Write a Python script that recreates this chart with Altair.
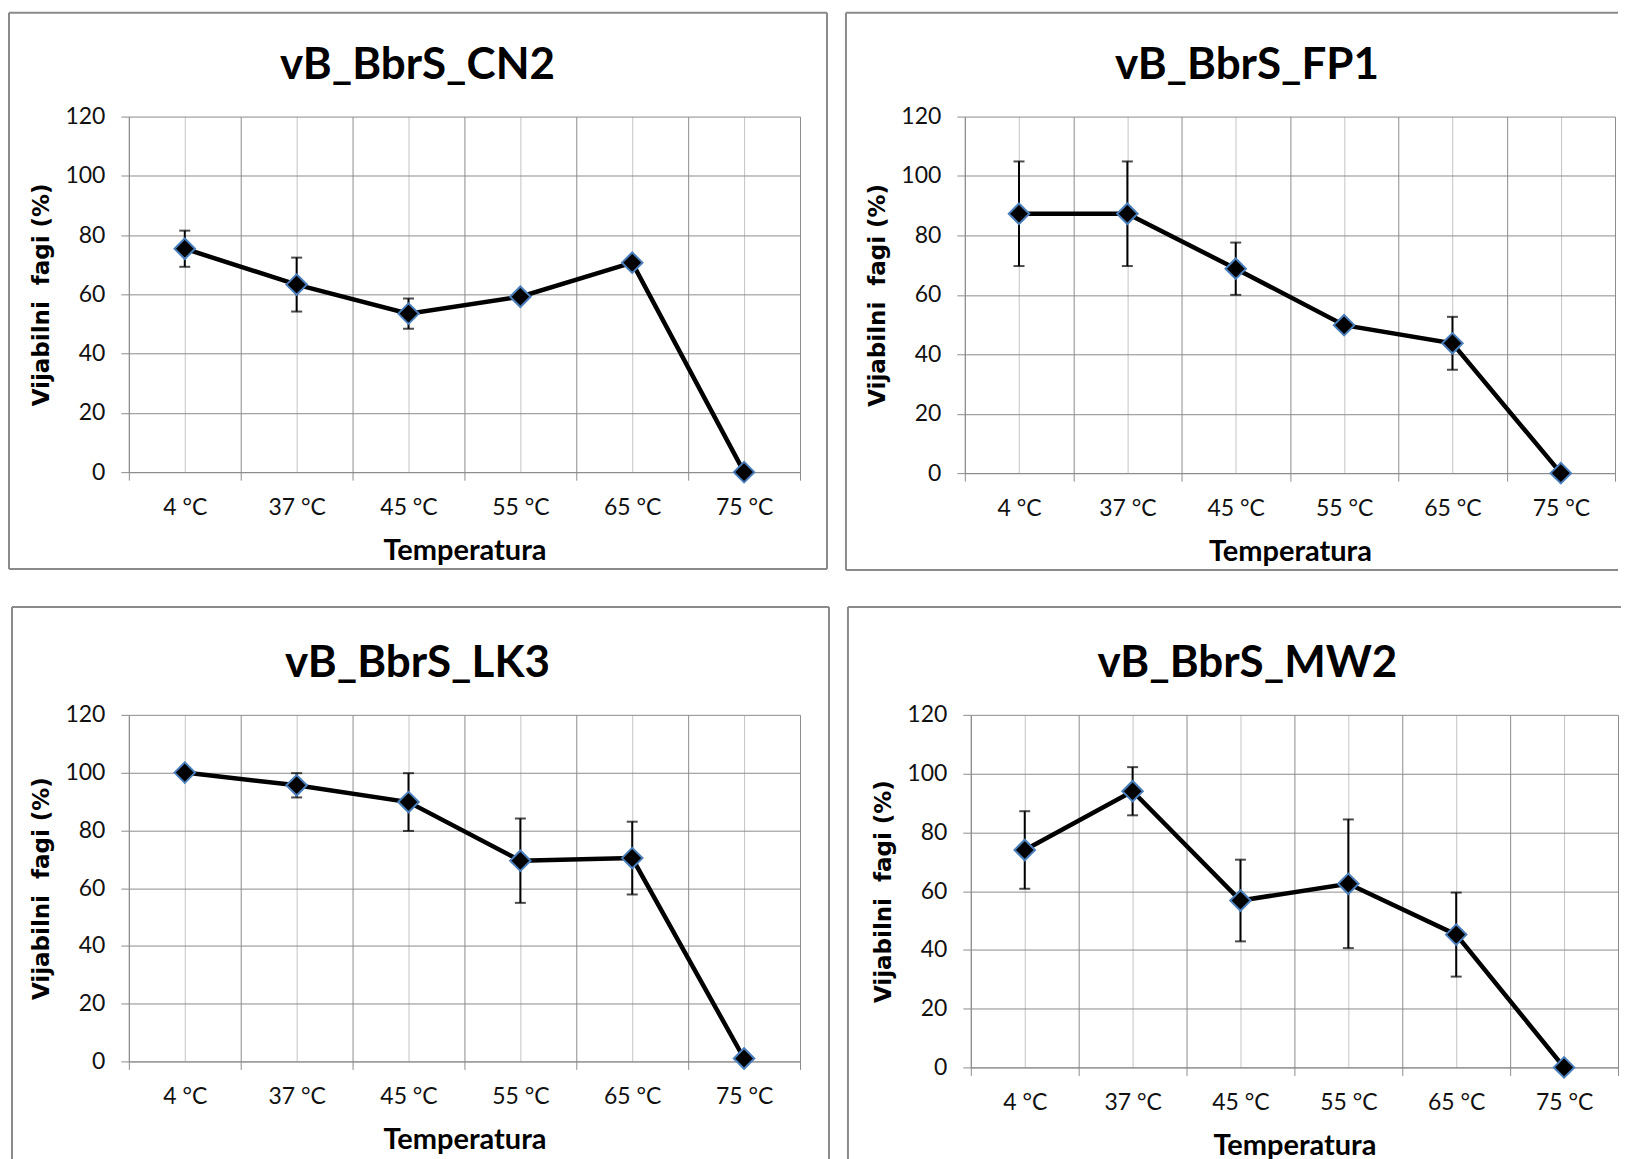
import json
import altair as alt
import pandas as pd

# ---------------- data ----------------
temps = ["4 °C", "37 °C", "45 °C", "55 °C", "65 °C", "75 °C"]
names = ["vB_BbrS_CN2", "vB_BbrS_FP1", "vB_BbrS_LK3", "vB_BbrS_MW2"]

cn2_mean = [75.4, 63.3, 53.5, 59.2, 70.7, 0.0]
cn2_err = [6.1, 9.1, 5.1, 0.0, 0.0, 0.0]
fp1_mean = [87.3, 87.3, 68.8, 49.8, 43.7, 0.0]
fp1_err = [17.6, 17.6, 8.8, 0.0, 8.9, 0.0]
lk3_mean = [100.0, 95.6, 89.8, 69.5, 70.4, 1.0]
lk3_err = [0.0, 4.2, 10.0, 14.6, 12.6, 0.0]
mw2_mean = [74.0, 94.0, 56.8, 62.5, 45.2, 0.0]
mw2_err = [13.2, 8.2, 13.9, 21.9, 14.3, 0.0]

y_ticks = [0, 20, 40, 60, 80, 100, 120]

# ---------------- styling ----------------
GRID = "#8c8c8c"
GRID_LIGHT = "#c4c4c4"
BORDER = "#8a8a8a"
MARKER_EDGE = "#4a7ebb"
LABEL_FONT = "Lato"
Y_TITLE = "Vijabilni\u00a0 fagi (%)"

label_expr = ("datum.value % 1 === 0.5 ? "
              + json.dumps(temps, ensure_ascii=False)
              + "[floor(datum.value)] : ''")
is_boundary = "datum.value % 1 === 0"


def panel(name, mean, err, w, h, left, right, top, bottom, edges, title_dx):
    df = pd.DataFrame({
        "temp": temps,
        "pos": [i + 0.5 for i in range(len(temps))],
        "mean": mean,
        "err": err,
    })
    base = alt.Chart(df).transform_calculate(
        lo="datum.mean - datum.err", hi="datum.mean + datum.err"
    )

    x_enc = alt.X(
        "pos:Q",
        scale=alt.Scale(domain=[0, len(temps)], nice=False, zero=False),
        axis=alt.Axis(
            values=[i / 2 for i in range(2 * len(temps) + 1)],
            grid=True,
            gridColor={"condition": {"test": is_boundary, "value": GRID}, "value": GRID_LIGHT},
            gridWidth=1,
            tickOpacity={"condition": {"test": is_boundary, "value": 1}, "value": 0},
            tickColor=GRID, tickSize=8, tickWidth=1,
            domainColor=GRID, domainWidth=1,
            labelExpr=label_expr, labelOverlap=False, labelFlush=False,
            labelFont=LABEL_FONT, labelFontSize=23, labelColor="#111", labelPadding=16,
            title="Temperatura", titleFont=LABEL_FONT, titleFontSize=29,
            titleFontWeight="bold", titleColor="#000", titlePadding=17,
        ),
    )
    y_axis = alt.Axis(
        values=y_ticks, grid=True, gridColor=GRID, gridWidth=1,
        tickColor=GRID, tickSize=8, tickWidth=1,
        domainColor=GRID, domainWidth=1,
        labelFont=LABEL_FONT, labelFontSize=23, labelColor="#111", labelPadding=16,
        title=Y_TITLE, titleFont="DejaVu Sans", titleFontSize=23,
        titleFontWeight="bold", titleColor="#000", titlePadding=11,
    )
    y_scale = alt.Scale(domain=[0, 120], nice=False)

    line = base.mark_line(color="black", strokeWidth=4.5).encode(
        x=x_enc, y=alt.Y("mean:Q", scale=y_scale, axis=y_axis)
    )
    bars = base.transform_filter("datum.err > 0").mark_rule(
        color="black", strokeWidth=2
    ).encode(x="pos:Q", y="lo:Q", y2="hi:Q")
    cap_hi = base.transform_filter("datum.err > 0").mark_tick(
        orient="horizontal", color="black", thickness=2, size=11
    ).encode(x="pos:Q", y="hi:Q")
    cap_lo = base.transform_filter("datum.err > 0").mark_tick(
        orient="horizontal", color="black", thickness=2, size=11
    ).encode(x="pos:Q", y="lo:Q")
    pts = base.mark_point(
        shape="diamond", filled=True, color="black", stroke=MARKER_EDGE,
        strokeWidth=2, size=420, opacity=1
    ).encode(x="pos:Q", y="mean:Q")

    one = pd.DataFrame({"k": [0]})
    title = alt.Chart(one).mark_text(
        text=name, font=LABEL_FONT, fontSize=44, fontWeight="bold", color="#000",
        align="center", baseline="alphabetic",
    ).encode(x=alt.value(w / 2 + title_dx), y=alt.value(-38))

    rules = []
    x1, x2, y1, y2 = -left, w + right, -top, h + bottom
    sty = dict(color=BORDER, strokeWidth=2)
    if "top" in edges:
        rules.append(alt.Chart(one).mark_rule(**sty).encode(
            x=alt.value(x1), x2=alt.value(x2), y=alt.value(y1)))
    if "bottom" in edges:
        rules.append(alt.Chart(one).mark_rule(**sty).encode(
            x=alt.value(x1), x2=alt.value(x2), y=alt.value(y2)))
    if "left" in edges:
        rules.append(alt.Chart(one).mark_rule(**sty).encode(
            x=alt.value(x1), y=alt.value(y1), y2=alt.value(y2)))
    if "right" in edges:
        rules.append(alt.Chart(one).mark_rule(**sty).encode(
            x=alt.value(x2), y=alt.value(y1), y2=alt.value(y2)))

    return alt.layer(line, bars, cap_hi, cap_lo, pts, title, *rules).properties(
        width=w, height=h,
    )


p1 = panel(names[0], cn2_mean, cn2_err, 672, 356, 120, 27, 104, 97,
           ["top", "bottom", "left", "right"], -47)
p2 = panel(names[1], fp1_mean, fp1_err, 651, 357, 119, 3, 104, 97,
           ["top", "bottom", "left"], -43)
p3 = panel(names[2], lk3_mean, lk3_err, 672, 347, 117, 29, 108, 98,
           ["top", "left", "right"], -47)
p4 = panel(names[3], mw2_mean, mw2_err, 648, 353, 123, 3, 108, 92,
           ["top", "left"], -47)

chart = alt.vconcat(
    alt.hconcat(p1, p2, spacing=17),
    alt.hconcat(p3, p4, spacing=17),
    spacing=35,
).properties(
    padding={"left": 0, "top": 3, "right": 0, "bottom": 0},
    background="white",
).configure_view(strokeWidth=0)

chart.save("out.html", embed_options={"renderer": "svg", "actions": False})
